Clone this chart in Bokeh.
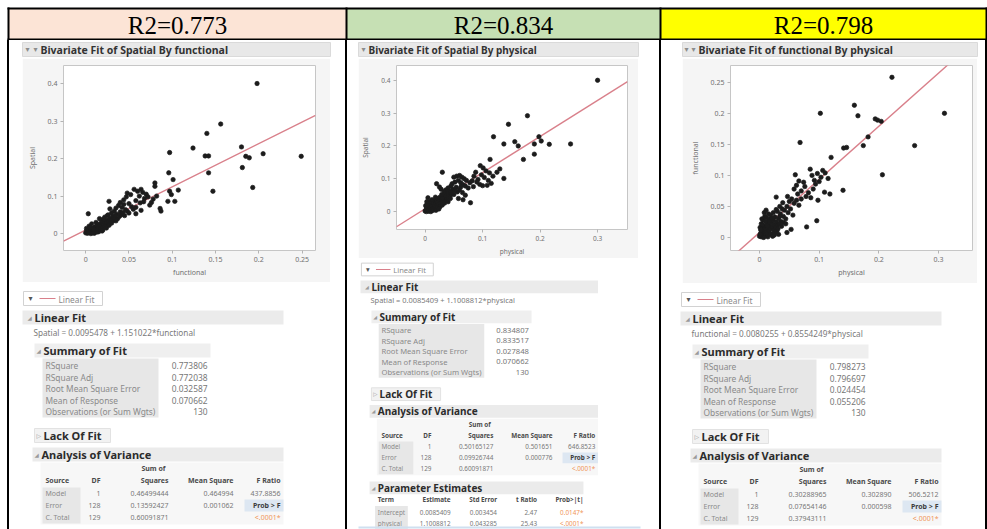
from bokeh.plotting import figure
from bokeh.layouts import row, column
from bokeh.models import Div, Range1d, Spacer, FixedTicker, CustomJSTickFormatter
from bokeh.core.properties import value
from bokeh.embed import file_html
from bokeh.resources import INLINE

# ---------------- data ----------------
r2_labels = ["R2=0.773", "R2=0.834", "R2=0.798"]
header_colors = ["#fce4d6", "#c6e0b4", "#ffff00"]

# Spatial by functional
functional_1 = [
    0.198, 0.156, 0.140, 0.124, 0.097, 0.138, 0.142, 0.180, 0.185, 0.189, 0.205, 0.249, 0.181, 0.142, 0.096,
    0.101, 0.147, 0.193, 0.107, 0.080, 0.080, 0.097, 0.099, 0.103, 0.095, 0.086, 0.087, 0.074, 0.064, 0.058,
    0.048, 0.027, 0.003,
    0.056, 0.060, 0.064, 0.066, 0.070, 0.072, 0.068, 0.062, 0.052, 0.047, 0.044, 0.058, 0.063, 0.078, 0.082,
    0.076, 0.050, 0.040, 0.038, 0.035, 0.042, 0.046, 0.053, 0.033, 0.030, 0.028, 0.036, 0.040, 0.025,
    0.000, 0.002, 0.003, 0.005, 0.006, 0.008, 0.009, 0.010, 0.011, 0.012, 0.013, 0.014, 0.015, 0.016, 0.017,
    0.018, 0.019, 0.020, 0.021, 0.022, 0.023, 0.024, 0.025, 0.026, 0.027, 0.028, 0.029, 0.030, 0.031, 0.032,
    0.033, 0.034, 0.004, 0.007, 0.001, 0.006, 0.010, 0.015, 0.020, 0.024, 0.012, 0.018, 0.002, 0.008, 0.016,
    0.022, 0.026, 0.037, 0.039, 0.041, 0.043, 0.045, 0.048, 0.050, 0.055, 0.058,
    0.001, 0.003, 0.005, 0.009, 0.013, 0.019, 0.021, 0.027, 0.030, 0.035, 0.044, 0.067,
]
spatial_1 = [
    0.400, 0.292, 0.267, 0.228, 0.216, 0.207, 0.207, 0.231, 0.206, 0.202, 0.213, 0.206, 0.176, 0.162, 0.162,
    0.144, 0.113, 0.123, 0.116, 0.135, 0.126, 0.113, 0.104, 0.086, 0.086, 0.067, 0.060, 0.076, 0.062, 0.053,
    0.108, 0.086, 0.053,
    0.118, 0.113, 0.118, 0.110, 0.105, 0.098, 0.094, 0.100, 0.104, 0.098, 0.090, 0.088, 0.082, 0.092, 0.100,
    0.083, 0.080, 0.083, 0.075, 0.068, 0.070, 0.064, 0.072, 0.060, 0.055, 0.066, 0.052, 0.058, 0.048,
    0.002, 0.005, 0.010, 0.004, 0.012, 0.008, 0.015, 0.006, 0.018, 0.012, 0.022, 0.009, 0.016, 0.025, 0.013,
    0.020, 0.028, 0.017, 0.024, 0.032, 0.021, 0.029, 0.036, 0.026, 0.033, 0.040, 0.030, 0.038, 0.045, 0.035,
    0.042, 0.048, 0.020, 0.026, 0.014, 0.000, 0.001, 0.005, 0.010, 0.015, 0.030, 0.036, 0.001, 0.002, 0.040,
    0.044, 0.050, 0.040, 0.046, 0.050, 0.056, 0.048, 0.060, 0.055, 0.065, 0.070,
    0.008, 0.003, 0.017, 0.011, 0.004, 0.007, 0.039, 0.022, 0.028, 0.034, 0.078, 0.085,
]

# Spatial by physical
physical_2 = [
    0.300, 0.178, 0.145, 0.119, 0.137, 0.156, 0.162, 0.190, 0.198, 0.202, 0.216, 0.253, 0.190, 0.171, 0.113,
    0.137, 0.030, 0.079,
    0.096, 0.101, 0.106, 0.112, 0.098, 0.103, 0.095, 0.100, 0.108, 0.115, 0.092, 0.088, 0.085,
    0.050, 0.055, 0.060, 0.064, 0.068, 0.072, 0.058, 0.052, 0.047, 0.062, 0.066, 0.070, 0.075, 0.078, 0.045,
    0.040, 0.036, 0.042, 0.048, 0.054, 0.056, 0.060, 0.065, 0.070, 0.050, 0.044, 0.038, 0.033, 0.028, 0.025,
    0.020, 0.032, 0.058, 0.066,
    0.000, 0.002, 0.003, 0.005, 0.006, 0.007, 0.008, 0.009, 0.010, 0.011, 0.012, 0.013, 0.014, 0.015, 0.016,
    0.017, 0.018, 0.019, 0.020, 0.021, 0.022, 0.023, 0.024, 0.025, 0.026, 0.027, 0.028, 0.030, 0.031, 0.001,
    0.004, 0.002, 0.006, 0.011, 0.016, 0.021, 0.026, 0.030, 0.034, 0.036, 0.038, 0.040, 0.008, 0.012, 0.018,
    0.035, 0.040, 0.044, 0.005,
    0.010, 0.014, 0.019, 0.024, 0.003, 0.029, 0.046, 0.052, 0.062, 0.082, 0.090, 0.084, 0.110, 0.125, 0.118,
    0.130,
]
spatial_2 = [
    0.400, 0.292, 0.266, 0.228, 0.206, 0.213, 0.200, 0.206, 0.228, 0.215, 0.205, 0.206, 0.175, 0.159, 0.159,
    0.101, 0.120, 0.027,
    0.140, 0.133, 0.124, 0.118, 0.112, 0.104, 0.083, 0.079, 0.080, 0.086, 0.098, 0.120, 0.108,
    0.105, 0.108, 0.110, 0.105, 0.100, 0.095, 0.095, 0.090, 0.085, 0.088, 0.082, 0.078, 0.072, 0.088, 0.078,
    0.072, 0.066, 0.062, 0.068, 0.074, 0.060, 0.066, 0.058, 0.050, 0.052, 0.050, 0.055, 0.060, 0.068, 0.075,
    0.085, 0.045, 0.040, 0.036,
    0.002, 0.006, 0.012, 0.003, 0.010, 0.016, 0.006, 0.020, 0.012, 0.024, 0.008, 0.017, 0.028, 0.013, 0.021,
    0.032, 0.016, 0.025, 0.036, 0.019, 0.029, 0.040, 0.023, 0.033, 0.044, 0.027, 0.037, 0.031, 0.041, 0.018,
    0.024, 0.000, 0.001, 0.003, 0.007, 0.011, 0.015, 0.020, 0.026, 0.034, 0.040, 0.030, 0.030, 0.036, 0.044,
    0.050, 0.046, 0.040, 0.042,
    0.000, 0.004, 0.004, 0.008, 0.030, 0.052, 0.058, 0.064, 0.075, 0.094, 0.090, 0.076, 0.095, 0.120, 0.108,
    0.130,
]

# functional by physical
physical_3 = [
    0.222, 0.159, 0.165, 0.102, 0.310, 0.194, 0.198, 0.204, 0.182, 0.174, 0.260, 0.141, 0.146, 0.068, 0.120,
    0.206, 0.140, 0.098, 0.118, 0.109, 0.096, 0.079, 0.053, 0.028,
    0.060, 0.066, 0.074, 0.085, 0.088, 0.097, 0.103, 0.100, 0.094, 0.106, 0.110, 0.090, 0.082, 0.076, 0.070,
    0.064, 0.078, 0.086, 0.058,
    0.050, 0.054, 0.058, 0.062, 0.066, 0.046, 0.042, 0.048, 0.038, 0.035, 0.040, 0.044, 0.032, 0.030, 0.052,
    0.056, 0.036, 0.070,
    0.000, 0.002, 0.003, 0.004, 0.005, 0.006, 0.007, 0.008, 0.009, 0.010, 0.011, 0.012, 0.013, 0.014, 0.015,
    0.016, 0.017, 0.018, 0.019, 0.020, 0.021, 0.022, 0.023, 0.024, 0.025, 0.026, 0.027, 0.028, 0.029, 0.030,
    0.001, 0.003, 0.006, 0.009, 0.012, 0.015, 0.018, 0.022, 0.026, 0.031, 0.033, 0.034, 0.004, 0.008, 0.011,
    0.002, 0.005, 0.010, 0.014, 0.019, 0.023, 0.028, 0.037, 0.040, 0.044, 0.046, 0.032,
    0.001, 0.007, 0.013, 0.017, 0.021, 0.025, 0.039, 0.047, 0.034, 0.062, 0.092, 0.115,
]
functional_3 = [
    0.258, 0.213, 0.196, 0.200, 0.200, 0.191, 0.189, 0.187, 0.162, 0.148, 0.148, 0.144, 0.145, 0.153, 0.129,
    0.101, 0.076, 0.060, 0.070, 0.073, 0.027, 0.017, 0.013, 0.065,
    0.101, 0.091, 0.089, 0.110, 0.100, 0.103, 0.097, 0.090, 0.086, 0.108, 0.104, 0.078, 0.072, 0.082, 0.075,
    0.070, 0.066, 0.064, 0.078,
    0.058, 0.062, 0.055, 0.060, 0.052, 0.050, 0.044, 0.040, 0.046, 0.038, 0.034, 0.030, 0.030, 0.042, 0.046,
    0.036, 0.026, 0.062,
    0.002, 0.006, 0.001, 0.010, 0.004, 0.014, 0.007, 0.018, 0.010, 0.003, 0.013, 0.022, 0.008, 0.016, 0.026,
    0.011, 0.020, 0.030, 0.014, 0.024, 0.006, 0.017, 0.028, 0.012, 0.021, 0.033, 0.016, 0.025, 0.010, 0.019,
    0.016, 0.022, 0.028, 0.034, 0.032, 0.038, 0.005, 0.002, 0.008, 0.014, 0.022, 0.034, 0.030, 0.040, 0.044,
    0.012, 0.020, 0.026, 0.001, 0.036, 0.040, 0.045, 0.018, 0.024, 0.022, 0.008, 0.005,
    0.005, 0.000, 0.019, 0.027, 0.031, 0.004, 0.056, 0.066, 0.050, 0.084, 0.092, 0.095,
]

# fitted lines (intercept, slope)
fit_1 = (0.0095478, 1.151022)
fit_2 = (0.0085409, 1.1008812)
fit_3 = (0.0080255, 0.8554249)

summary_labels = ["RSquare", "RSquare Adj", "Root Mean Square Error", "Mean of Response",
                  "Observations (or Sum Wgts)"]
summary_1 = ["0.773806", "0.772038", "0.032587", "0.070662", "130"]
summary_2 = ["0.834807", "0.833517", "0.027848", "0.070662", "130"]
summary_3 = ["0.798273", "0.796697", "0.024454", "0.055206", "130"]

anova_sources = ["Model", "Error", "C. Total"]
anova_df = ["1", "128", "129"]
anova_ss_1 = ["0.46499444", "0.13592427", "0.60091871"]
anova_ms_1 = ["0.464994", "0.001062", ""]
anova_f_1 = "437.8856"
anova_ss_2 = ["0.50165127", "0.09926744", "0.60091871"]
anova_ms_2 = ["0.501651", "0.000776", ""]
anova_f_2 = "646.8523"
anova_ss_3 = ["0.30288965", "0.07654146", "0.37943111"]
anova_ms_3 = ["0.302890", "0.000598", ""]
anova_f_3 = "506.5212"

param_terms = ["Intercept", "physical"]
param_est = ["0.0085409", "1.1008812"]
param_se = ["0.003454", "0.043285"]
param_t = ["2.47", "25.43"]
param_p = ["0.0147*", "<.0001*"]

# ---------------- styling ----------------
FONT = "Noto Sans"
FIT = "#d9808b"
SIG = "#f0965a"
HEAD_TXT = "#2c2c2c"


def canvas(w, h, bg="white"):
    p = figure(width=w, height=h, x_range=Range1d(0, w), y_range=Range1d(h, 0),
               x_axis_type=None, y_axis_type=None, output_backend="svg",
               toolbar_location=None, min_border=0, outline_line_color=None,
               background_fill_color=bg, border_fill_color=bg)
    p.grid.visible = False
    return p


def txt(p, x, y, s, size, color="#666666", align="left", bold=False, font=FONT):
    p.text(x=[x], y=[y], text=[s], text_font=value(font), text_font_size=f"{size:.2f}px",
           text_color=color, text_align=align, text_baseline="middle",
           text_font_style="bold" if bold else "normal")


def box(p, l, r, t, b, fill, line=None):
    p.quad(left=[l], right=[r], top=[t], bottom=[b], fill_color=fill,
           line_color=line, line_width=1)


def section(p, l, r, yc, title, s, icon="◢", icon_x=None, text_x=None, fill="#ebebeb"):
    box(p, l, r, yc - 7 * s, yc + 7 * s, fill)
    txt(p, icon_x, yc, icon, 5.5 * s, "#9a9a9a", font="DejaVu Sans")
    txt(p, text_x, yc, title, 11 * s, HEAD_TXT, bold=True)


def title_bar(w, l, r, icon_xs, text_x, title, size):
    p = canvas(w, 18)
    box(p, l, r, 2, 16, "#e8e8e8", "#dadada")
    for ix in icon_xs:
        txt(p, ix, 9, "▾", 8, "#8c8c8c", font="DejaVu Sans")
    txt(p, text_x, 9, title, size, "#333333", bold=True)
    return p


def scatter_panel(xs, ys, fit, x_rng, y_rng, xt, yt, xlab, ylab, w, h, bl, br, bt, bb, fs=7.0):
    p = figure(width=w, height=h, x_range=Range1d(*x_rng), y_range=Range1d(*y_rng),
               output_backend="svg", toolbar_location=None,
               min_border_left=bl, min_border_right=br, min_border_top=bt, min_border_bottom=bb,
               background_fill_color="white", border_fill_color="#f5f5f5",
               outline_line_color="#c6c6c6", outline_line_width=1)
    p.grid.visible = False
    fmt = CustomJSTickFormatter(code="return String(Math.round(tick * 1000) / 1000);")
    p.xaxis.ticker = FixedTicker(ticks=xt)
    p.yaxis.ticker = FixedTicker(ticks=yt)
    for ax in (p.xaxis[0], p.yaxis[0]):
        ax.formatter = fmt
        ax.axis_line_color = None
        ax.major_tick_line_color = "#b4b4b4"
        ax.major_tick_out = 3
        ax.major_tick_in = 0
        ax.minor_tick_line_color = None
        ax.major_label_text_font = FONT
        ax.major_label_text_font_size = f"{fs}px"
        ax.major_label_text_color = "#707070"
        ax.major_label_standoff = 3
        ax.axis_label_text_font = FONT
        ax.axis_label_text_font_size = f"{fs}px"
        ax.axis_label_text_font_style = "normal"
        ax.axis_label_text_color = "#707070"
        ax.axis_label_standoff = 3
    p.yaxis[0].axis_label_standoff = 8
    p.xaxis.axis_label = xlab
    p.yaxis.axis_label = ylab
    a, b = fit
    x0, x1 = x_rng
    p.line(x=[x0, x1], y=[a + b * x0, a + b * x1], line_color=FIT, line_width=1.4)
    p.scatter(x=xs, y=ys, marker="circle", size=4.4, fill_color="#1c1c1c",
              line_color="#1c1c1c", line_alpha=0.7)
    return p


def report(p, x0, y0, s, eq, summ, ss, ms, fval, params=False):
    X = lambda v: x0 + v * s
    Y = lambda v: y0 + v * s
    # legend
    box(p, X(1), X(80), Y(-7), Y(7), "white", "#d2d2d2")
    txt(p, X(6), Y(0), "▾", 8 * s, "#555555", font="DejaVu Sans")
    p.line([X(17), X(33)], [Y(0), Y(0)], line_color=FIT, line_width=1.2)
    txt(p, X(36), Y(0.5), "Linear Fit", 8.3 * s, "#8a8a8a")
    # Linear Fit
    section(p, X(0), X(261), Y(19), "Linear Fit", s, icon_x=X(5), text_x=X(12))
    txt(p, X(11), Y(34), eq, 8.2 * s, "#7a7a7a")
    # Summary of Fit
    section(p, X(12), X(188), Y(52), "Summary of Fit", s, icon_x=X(14), text_x=X(21), fill="#efefef")
    box(p, X(20), X(136), Y(60), Y(119), "#e7e7e7")
    for i, (lab, v) in enumerate(zip(summary_labels, summ)):
        yy = Y(67 + i * 11.5)
        txt(p, X(23), yy, lab, 8.4 * s, "#8a8a8a")
        txt(p, X(185), yy, v, 8.4 * s, "#777777", align="right")
    # Lack Of Fit
    box(p, X(12), X(88), Y(130), Y(144), "#f2f2f2", "#e2e2e2")
    txt(p, X(14), Y(137), "▷", 6 * s, "#9a9a9a", font="DejaVu Sans")
    txt(p, X(21), Y(137), "Lack Of Fit", 11 * s, HEAD_TXT, bold=True)
    # Analysis of Variance
    section(p, X(10), X(261), Y(156), "Analysis of Variance", s, icon_x=X(12), text_x=X(19))
    box(p, X(18), X(261), Y(164), Y(226), "#f7f7f7")
    txt(p, X(131), Y(170), "Sum of", 7 * s, "#4a4a4a", align="center", bold=True)
    hy = Y(182)
    txt(p, X(23), hy, "Source", 7 * s, "#4a4a4a", bold=True)
    txt(p, X(78), hy, "DF", 7 * s, "#4a4a4a", align="right", bold=True)
    txt(p, X(146), hy, "Squares", 7 * s, "#4a4a4a", align="right", bold=True)
    txt(p, X(211), hy, "Mean Square", 7 * s, "#4a4a4a", align="right", bold=True)
    txt(p, X(258), hy, "F Ratio", 7 * s, "#4a4a4a", align="right", bold=True)
    box(p, X(20), X(58), Y(189), Y(225), "#e7e7e7")
    box(p, X(222), X(261), Y(201), Y(213), "#dde7f2")
    for i in range(3):
        yy = Y(195 + i * 12)
        txt(p, X(23), yy, anova_sources[i], 7 * s, "#8a8a8a")
        txt(p, X(78), yy, anova_df[i], 7 * s, "#777777", align="right")
        txt(p, X(146), yy, ss[i], 7 * s, "#777777", align="right")
        txt(p, X(211), yy, ms[i], 7 * s, "#777777", align="right")
    txt(p, X(258), Y(195), fval, 7 * s, "#777777", align="right")
    txt(p, X(258), Y(207), "Prob > F", 7 * s, "#3c3c3c", align="right", bold=True)
    txt(p, X(258), Y(219), "<.0001*", 7 * s, SIG, align="right")
    if params:
        section(p, X(10), X(245), Y(240), "Parameter Estimates", s, icon_x=X(12), text_x=X(19))
        ty = Y(253)
        txt(p, X(19), ty, "Term", 7 * s, "#4a4a4a", bold=True)
        txt(p, X(99), ty, "Estimate", 7 * s, "#4a4a4a", align="right", bold=True)
        txt(p, X(150), ty, "Std Error", 7 * s, "#4a4a4a", align="right", bold=True)
        txt(p, X(194), ty, "t Ratio", 7 * s, "#4a4a4a", align="right", bold=True)
        txt(p, X(245), ty, "Prob>|t|", 7 * s, "#4a4a4a", align="right", bold=True)
        box(p, X(16), X(52), Y(260), Y(286), "#e7e7e7")
        for i in range(2):
            yy = Y(267 + i * 12)
            txt(p, X(19), yy, param_terms[i], 7 * s, "#8a8a8a")
            txt(p, X(99), yy, param_est[i], 7 * s, "#777777", align="right")
            txt(p, X(150), yy, param_se[i], 7 * s, "#777777", align="right")
            txt(p, X(194), yy, param_t[i], 7 * s, "#777777", align="right")
            txt(p, X(245), yy, param_p[i], 7 * s, SIG, align="right")


def equation(resp, pred, fit):
    return f"{resp} = {fit[0]} + {fit[1]}*{pred}"


# ---------------- header row ----------------
W, H = 987, 529
HEAD_H = 40
BODY_H = H - HEAD_H
col_edges = [8, 346, 660, 986]

head = canvas(W, HEAD_H)
head.quad(left=col_edges[:-1], right=col_edges[1:], top=[8] * 3, bottom=[39] * 3,
          fill_color=header_colors, line_color=None)
head.segment(x0=[col_edges[0] - 1], y0=[8], x1=[col_edges[-1] + 1], y1=[8], line_color="black", line_width=2)
head.segment(x0=[col_edges[0] - 1], y0=[39], x1=[col_edges[-1] + 1], y1=[39], line_color="black", line_width=2)
head.segment(x0=col_edges, y0=[7] * 4, x1=col_edges, y1=[40] * 4, line_color="black", line_width=2)
head.text(x=[(col_edges[i] + col_edges[i + 1]) / 2 for i in range(3)], y=[24.5] * 3, text=r2_labels,
          text_font=value("Liberation Serif"), text_font_size="25px", text_color="black",
          text_align="center", text_baseline="middle")

# ---------------- panel 1: Spatial by functional ----------------
c1_w = 336
t1 = title_bar(c1_w, 13, 321, [16, 24], 31, "Bivariate Fit of Spatial By functional", 10.5)
s1 = scatter_panel(functional_1, spatial_1, fit_1, (-0.0256, 0.2655), (-0.045, 0.448),
                   [0, 0.05, 0.1, 0.15, 0.2, 0.25], [0, 0.1, 0.2, 0.3, 0.4],
                   "functional", "Spatial", 308, 224, 41, 15, 7, 32)
r1 = canvas(c1_w, BODY_H - 18 - 224)
report(r1, 13, 16, 1.0, equation("Spatial", "functional", fit_1), summary_1,
       anova_ss_1, anova_ms_1, anova_f_1)
col1 = column(t1, row(Spacer(width=13, height=224), s1, Spacer(width=15, height=224)), r1)

# ---------------- panel 2: Spatial by physical ----------------
c2_w = 312
t2 = title_bar(c2_w, 11, 291, [14], 21, "Bivariate Fit of Spatial By physical", 10)
s2 = scatter_panel(physical_2, spatial_2, fit_2, (-0.0497, 0.352), (-0.0545, 0.445),
                   [0, 0.1, 0.2, 0.3], [0, 0.1, 0.2, 0.3, 0.4],
                   "physical", "Spatial", 280, 200, 35, 11, 7, 28, fs=6.5)
r2 = canvas(c2_w, BODY_H - 18 - 200)
report(r2, 13, 11, 0.91, equation("Spatial", "physical", fit_2), summary_2,
       anova_ss_2, anova_ms_2, anova_f_2, params=True)
box(r2, 11, 293, BODY_H - 18 - 200 - 3, BODY_H - 18 - 200 - 1, "#cfe0f0")
col2 = column(t2, row(Spacer(width=11, height=200), s2, Spacer(width=21, height=200)), r2)

# ---------------- panel 3: functional by physical ----------------
c3_w = 324
t3 = title_bar(c3_w, 21, 316, [23, 30], 37, "Bivariate Fit of functional By physical", 10.5)
s3 = scatter_panel(physical_3, functional_3, fit_3, (-0.0486, 0.357), (-0.021, 0.277),
                   [0, 0.1, 0.2, 0.3], [0, 0.05, 0.1, 0.15, 0.2, 0.25],
                   "physical", "functional", 295, 225, 48, 5, 7, 33)
r3 = canvas(c3_w, BODY_H - 18 - 225)
report(r3, 19, 16, 1.0, equation("functional", "physical", fit_3), summary_3,
       anova_ss_3, anova_ms_3, anova_f_3)
col3 = column(t3, row(Spacer(width=21, height=225), s3, Spacer(width=8, height=225)), r3)


def rule():
    return Div(width=2, height=BODY_H, margin=0, styles={"background-color": "black"})


body = row(Spacer(width=7, height=BODY_H), rule(), col1, rule(), col2, rule(), col3, rule())
page = column(head, body)

open("out.html", "w").write(file_html(page, INLINE))
